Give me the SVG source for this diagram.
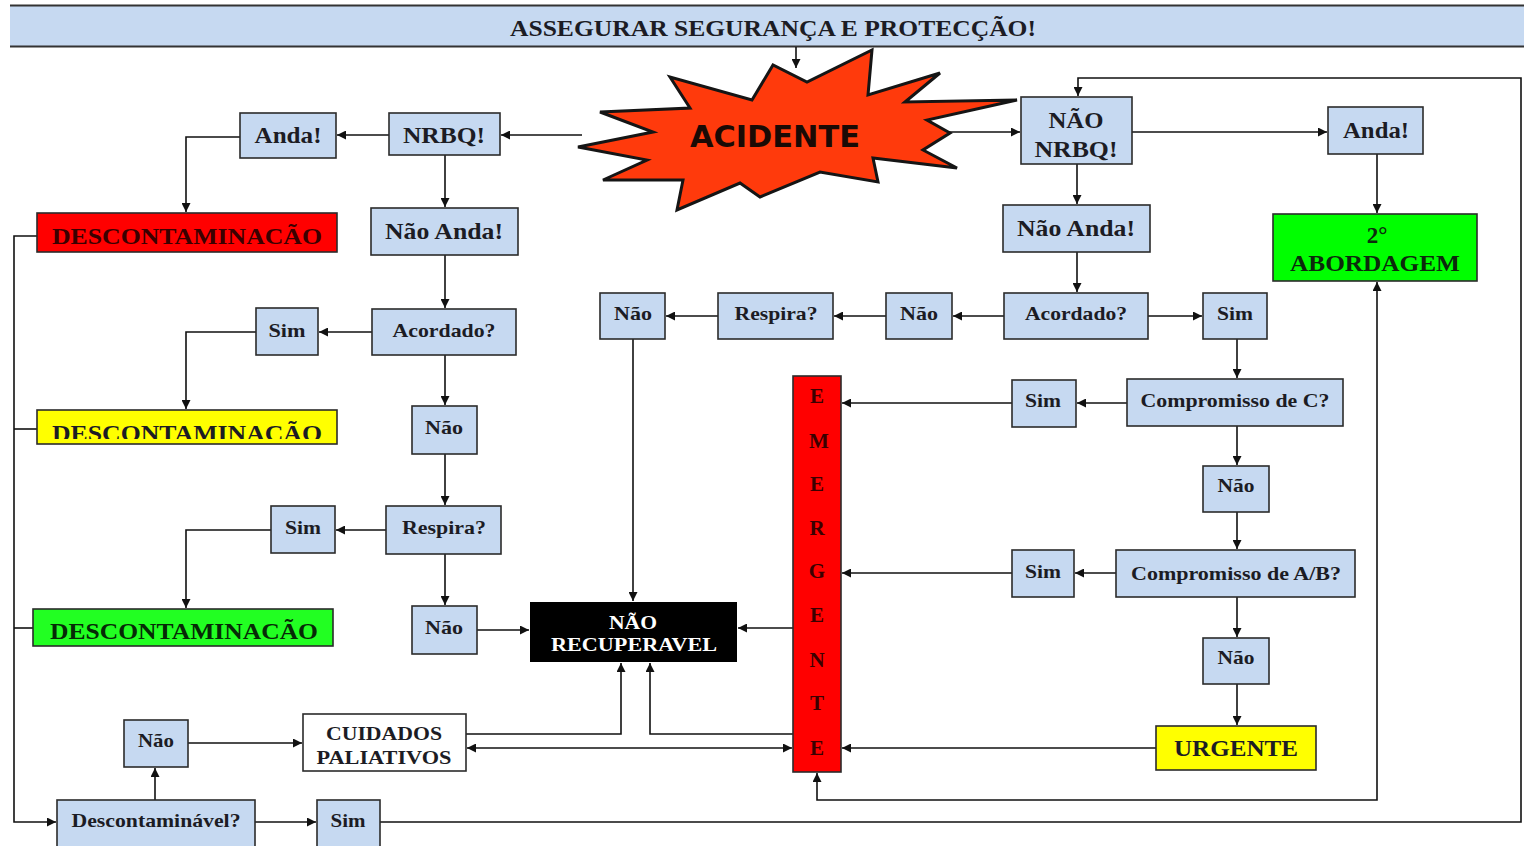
<svg xmlns="http://www.w3.org/2000/svg" width="1524" height="846" viewBox="0 0 1524 846">
  <style>
    .box { fill: #c6d9f1; stroke: #2b2b2b; stroke-width: 1.6; }
    .t { font-family: "Liberation Serif", "Times New Roman", serif; font-weight: bold; fill: #1c1c24; text-anchor: middle; }
    .big { font-size: 23px; }
    .sm { font-size: 19px; }
    .con { fill: none; stroke: #111; stroke-width: 1.6; }
    .arr { marker-end: url(#ah); }
    .both { marker-start: url(#ah); marker-end: url(#ah); }
    .em { font-family: "Liberation Serif", "Times New Roman", serif; font-weight: bold; font-size: 21px; fill: #3a0000; text-anchor: middle; }
  </style>
  <defs>
    <marker id="ah" viewBox="0 0 10 10" refX="10" refY="5" markerWidth="9" markerHeight="9" markerUnits="userSpaceOnUse" orient="auto-start-reverse">
      <path d="M0,0 L10,5 L0,10 z" fill="#111"/>
    </marker>
    <clipPath id="clipYellow">
      <rect x="37" y="410" width="300" height="29"/>
    </clipPath>
  </defs>

  <rect width="1524" height="846" fill="#ffffff"/>

  <!-- title banner -->
  <g id="banner">
    <rect x="10" y="5" width="1514" height="42" fill="#c6d9f1"/>
    <line x1="10" y1="5.5" x2="1524" y2="5.5" stroke="#333" stroke-width="2"/>
    <line x1="10" y1="46.5" x2="1524" y2="46.5" stroke="#333" stroke-width="2"/>
    <text x="773" y="36" class="t" font-size="24" textLength="526" lengthAdjust="spacingAndGlyphs">ASSEGURAR SEGURANÇA E PROTECÇÃO!</text>
  </g>

  <!-- connectors -->
  <g id="connectors">
    <path class="con arr" d="M796,47 V68"/>
    <path class="con arr" d="M582,135 H501"/>
    <path class="con arr" d="M389,135 H337"/>
    <path class="con arr" d="M240,137 H186 V212"/>
    <path class="con arr" d="M445,155 V207"/>
    <path class="con arr" d="M445,255 V308"/>
    <path class="con arr" d="M372,332 H319"/>
    <path class="con arr" d="M256,332 H186 V409"/>
    <path class="con arr" d="M445,355 V405"/>
    <path class="con arr" d="M445,454 V505"/>
    <path class="con arr" d="M386,530 H336"/>
    <path class="con arr" d="M271,530 H186 V608"/>
    <path class="con arr" d="M445,554 V605"/>
    <path class="con arr" d="M477,630 H529"/>
    <path class="con arr" d="M37,236 H14 V822 H56"/>
    <path class="con" d="M14,429 H37"/>
    <path class="con" d="M14,628 H33"/>
    <path class="con arr" d="M255,822 H316"/>
    <path class="con arr" d="M155,800 V768"/>
    <path class="con arr" d="M188,743 H302"/>
    <path class="con arr" d="M466,734 H621 V663"/>
    <path class="con arr" d="M793,734 H650 V663"/>
    <path class="con both" d="M467,748 H792"/>
    <path class="con arr" d="M793,628 H738"/>
    <path class="con arr" d="M633,339 V601"/>
    <path class="con arr" d="M928,132 H1020"/>
    <path class="con arr" d="M1132,132 H1327"/>
    <path class="con arr" d="M1377,154 V213"/>
    <path class="con arr" d="M1077,164 V204"/>
    <path class="con arr" d="M1077,252 V292"/>
    <path class="con arr" d="M1148,316 H1202"/>
    <path class="con arr" d="M1004,316 H953"/>
    <path class="con arr" d="M886,316 H834"/>
    <path class="con arr" d="M718,316 H666"/>
    <path class="con arr" d="M1237,339 V378"/>
    <path class="con arr" d="M1127,403 H1077"/>
    <path class="con arr" d="M1012,403 H842"/>
    <path class="con arr" d="M1237,426 V465"/>
    <path class="con arr" d="M1237,512 V549"/>
    <path class="con arr" d="M1116,573 H1075"/>
    <path class="con arr" d="M1012,573 H842"/>
    <path class="con arr" d="M1237,597 V637"/>
    <path class="con arr" d="M1237,684 V725"/>
    <path class="con arr" d="M1156,748 H842"/>
    <path class="con both" d="M817,773 V800 H1377 V282"/>
    <path class="con arr" d="M380,822 H1521 V78 H1078 V96" stroke="#333"/>
  </g>

  <!-- starburst -->
  <g id="acidente">
    <polygon points="600,112 690,108 670,77 752,100 773,65 807,82 872,50 868,95 940,73 905,102 1017,100 927,120 950,133 923,150 957,168 873,158 878,182 820,172 760,197 740,183 677,210 683,180 603,180 647,160 578,147 653,132" fill="#ff3a0c" stroke="#151515" stroke-width="3" stroke-linejoin="miter"/>
    <text x="775" y="147" font-family="'DejaVu Sans', Verdana, sans-serif" font-weight="bold" font-size="31" fill="#1a0a05" text-anchor="middle" textLength="170" lengthAdjust="spacingAndGlyphs">ACIDENTE</text>
  </g>

  <!-- left branch: NRBQ -->
  <g id="nrbq">
    <rect class="box" x="389" y="113" width="111" height="42"/>
    <text class="t big" x="444" y="143" textLength="82" lengthAdjust="spacingAndGlyphs">NRBQ!</text>
  </g>
  <g id="anda-left">
    <rect class="box" x="240" y="113" width="96" height="45"/>
    <text class="t big" x="288" y="143" textLength="67" lengthAdjust="spacingAndGlyphs">Anda!</text>
  </g>
  <g id="desc-red">
    <rect x="37" y="213" width="300" height="39" fill="#ff0000" stroke="#2b2b2b" stroke-width="1.6"/>
    <text class="t big" x="187" y="244" fill="#3a0000" style="fill:#3a0000" textLength="270" lengthAdjust="spacingAndGlyphs">DESCONTAMINACÃO</text>
  </g>
  <g id="nao-anda-left">
    <rect class="box" x="371" y="208" width="147" height="47"/>
    <text class="t big" x="444" y="239" textLength="118" lengthAdjust="spacingAndGlyphs">Não Anda!</text>
  </g>
  <g id="acordado-left">
    <rect class="box" x="372" y="309" width="144" height="46"/>
    <text class="t sm" x="444" y="337" textLength="103" lengthAdjust="spacingAndGlyphs">Acordado?</text>
  </g>
  <g id="sim-left-1">
    <rect class="box" x="256" y="308" width="62" height="47"/>
    <text class="t sm" x="287" y="337" textLength="37" lengthAdjust="spacingAndGlyphs">Sim</text>
  </g>
  <g id="desc-yellow">
    <rect x="37" y="410" width="300" height="34" fill="#ffff00" stroke="#2b2b2b" stroke-width="1.6"/>
    <text class="t big" x="187" y="441" clip-path="url(#clipYellow)" textLength="270" lengthAdjust="spacingAndGlyphs">DESCONTAMINACÃO</text>
  </g>
  <g id="nao-left-1">
    <rect class="box" x="412" y="406" width="65" height="48"/>
    <text class="t sm" x="444" y="434" textLength="38" lengthAdjust="spacingAndGlyphs">Não</text>
  </g>
  <g id="respira-left">
    <rect class="box" x="386" y="506" width="115" height="48"/>
    <text class="t sm" x="444" y="534" textLength="84" lengthAdjust="spacingAndGlyphs">Respira?</text>
  </g>
  <g id="sim-left-2">
    <rect class="box" x="271" y="506" width="64" height="47"/>
    <text class="t sm" x="303" y="534" textLength="36" lengthAdjust="spacingAndGlyphs">Sim</text>
  </g>
  <g id="desc-green">
    <rect x="33" y="609" width="300" height="37" fill="#22ff22" stroke="#2b2b2b" stroke-width="1.6"/>
    <text class="t big" x="184" y="639" style="fill:#062a06" textLength="268" lengthAdjust="spacingAndGlyphs">DESCONTAMINACÃO</text>
  </g>
  <g id="nao-left-2">
    <rect class="box" x="412" y="606" width="65" height="48"/>
    <text class="t sm" x="444" y="634" textLength="38" lengthAdjust="spacingAndGlyphs">Não</text>
  </g>
  <g id="nao-recuperavel">
    <rect x="530" y="602" width="207" height="60" fill="#000000"/>
    <text class="t sm" x="633" y="629" style="fill:#ffffff" textLength="48" lengthAdjust="spacingAndGlyphs">NÃO</text>
    <text class="t sm" x="634" y="651" style="fill:#ffffff" textLength="166" lengthAdjust="spacingAndGlyphs">RECUPERAVEL</text>
  </g>

  <!-- bottom row -->
  <g id="descontaminavel">
    <rect class="box" x="57" y="800" width="198" height="50"/>
    <text class="t sm" x="156" y="827" textLength="169" lengthAdjust="spacingAndGlyphs">Descontaminável?</text>
  </g>
  <g id="sim-bottom">
    <rect class="box" x="317" y="800" width="63" height="50"/>
    <text class="t sm" x="348" y="827" textLength="35" lengthAdjust="spacingAndGlyphs">Sim</text>
  </g>
  <g id="nao-bottom">
    <rect class="box" x="124" y="720" width="64" height="47"/>
    <text class="t sm" x="156" y="747" textLength="36" lengthAdjust="spacingAndGlyphs">Não</text>
  </g>
  <g id="cuidados">
    <rect x="303" y="714" width="163" height="57" fill="#ffffff" stroke="#2b2b2b" stroke-width="1.6"/>
    <text class="t sm" x="384" y="740" textLength="116" lengthAdjust="spacingAndGlyphs">CUIDADOS</text>
    <text class="t sm" x="384" y="764" textLength="135" lengthAdjust="spacingAndGlyphs">PALIATIVOS</text>
  </g>

  <!-- emergente bar -->
  <g id="emergente">
    <rect x="793" y="376" width="48" height="396" fill="#ff0000" stroke="#2b2b2b" stroke-width="1.6"/>
    <text class="em" x="817" y="403">E</text>
    <text class="em" x="819" y="448">M</text>
    <text class="em" x="817" y="491">E</text>
    <text class="em" x="817" y="535">R</text>
    <text class="em" x="817" y="578">G</text>
    <text class="em" x="817" y="622">E</text>
    <text class="em" x="817" y="667">N</text>
    <text class="em" x="817" y="710">T</text>
    <text class="em" x="817" y="755">E</text>
  </g>

  <!-- right branch: NÃO NRBQ -->
  <g id="nao-nrbq">
    <rect class="box" x="1021" y="97" width="111" height="67"/>
    <text class="t big" x="1076" y="128" textLength="55" lengthAdjust="spacingAndGlyphs">NÃO</text>
    <text class="t big" x="1076" y="157" textLength="83" lengthAdjust="spacingAndGlyphs">NRBQ!</text>
  </g>
  <g id="anda-right">
    <rect class="box" x="1328" y="107" width="95" height="47"/>
    <text class="t big" x="1376" y="138" textLength="66" lengthAdjust="spacingAndGlyphs">Anda!</text>
  </g>
  <g id="abordagem">
    <rect x="1273" y="214" width="204" height="67" fill="#00ff00" stroke="#2b2b2b" stroke-width="1.6"/>
    <text class="t big" x="1377" y="243" style="fill:#0c2a0c">2°</text>
    <text class="t big" x="1375" y="271" style="fill:#0c2a0c" textLength="170" lengthAdjust="spacingAndGlyphs">ABORDAGEM</text>
  </g>
  <g id="nao-anda-right">
    <rect class="box" x="1003" y="205" width="147" height="47"/>
    <text class="t big" x="1076" y="236" textLength="118" lengthAdjust="spacingAndGlyphs">Não Anda!</text>
  </g>
  <g id="acordado-right">
    <rect class="box" x="1004" y="293" width="144" height="46"/>
    <text class="t sm" x="1076" y="320" textLength="102" lengthAdjust="spacingAndGlyphs">Acordado?</text>
  </g>
  <g id="sim-right-1">
    <rect class="box" x="1203" y="293" width="64" height="46"/>
    <text class="t sm" x="1235" y="320" textLength="36" lengthAdjust="spacingAndGlyphs">Sim</text>
  </g>
  <g id="nao-right-1">
    <rect class="box" x="886" y="293" width="66" height="46"/>
    <text class="t sm" x="919" y="320" textLength="38" lengthAdjust="spacingAndGlyphs">Não</text>
  </g>
  <g id="respira-right">
    <rect class="box" x="718" y="293" width="115" height="46"/>
    <text class="t sm" x="776" y="320" textLength="83" lengthAdjust="spacingAndGlyphs">Respira?</text>
  </g>
  <g id="nao-right-2">
    <rect class="box" x="600" y="293" width="65" height="46"/>
    <text class="t sm" x="633" y="320" textLength="38" lengthAdjust="spacingAndGlyphs">Não</text>
  </g>
  <g id="comp-c">
    <rect class="box" x="1127" y="379" width="216" height="47"/>
    <text class="t sm" x="1235" y="407" textLength="189" lengthAdjust="spacingAndGlyphs">Compromisso de C?</text>
  </g>
  <g id="sim-c">
    <rect class="box" x="1012" y="380" width="64" height="47"/>
    <text class="t sm" x="1043" y="407" textLength="36" lengthAdjust="spacingAndGlyphs">Sim</text>
  </g>
  <g id="nao-c">
    <rect class="box" x="1203" y="466" width="66" height="46"/>
    <text class="t sm" x="1236" y="492" textLength="37" lengthAdjust="spacingAndGlyphs">Não</text>
  </g>
  <g id="comp-ab">
    <rect class="box" x="1116" y="550" width="239" height="47"/>
    <text class="t sm" x="1236" y="580" textLength="210" lengthAdjust="spacingAndGlyphs">Compromisso de A/B?</text>
  </g>
  <g id="sim-ab">
    <rect class="box" x="1012" y="550" width="62" height="47"/>
    <text class="t sm" x="1043" y="578" textLength="36" lengthAdjust="spacingAndGlyphs">Sim</text>
  </g>
  <g id="nao-ab">
    <rect class="box" x="1203" y="638" width="66" height="46"/>
    <text class="t sm" x="1236" y="664" textLength="37" lengthAdjust="spacingAndGlyphs">Não</text>
  </g>
  <g id="urgente">
    <rect x="1156" y="726" width="160" height="44" fill="#ffff00" stroke="#2b2b2b" stroke-width="1.6"/>
    <text class="t big" x="1236" y="756" textLength="124" lengthAdjust="spacingAndGlyphs">URGENTE</text>
  </g>
</svg>
